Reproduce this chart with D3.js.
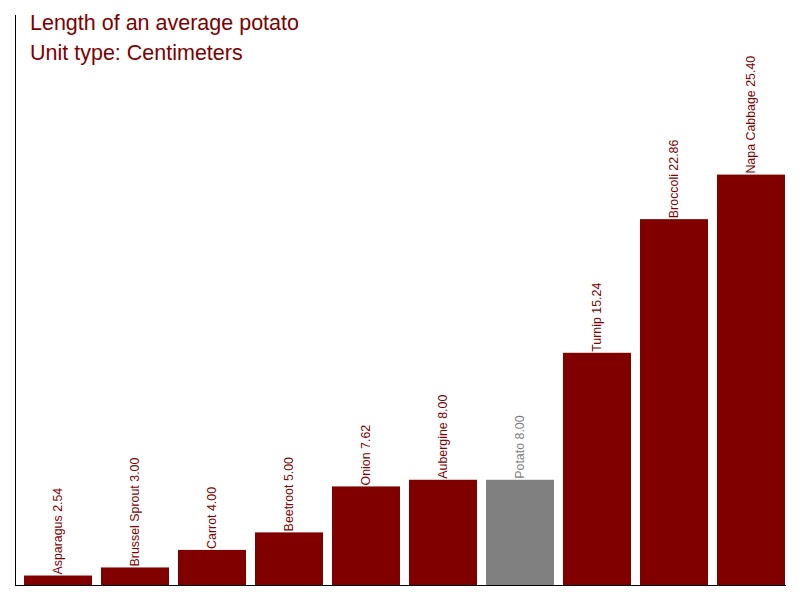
<!DOCTYPE html>
<html>
<head>
<meta charset="utf-8">
<script src="https://cdn.jsdelivr.net/npm/d3@7"></script>
<style>
  body { margin: 0; background: #fff; }
  svg { display: block; font-family: "Liberation Sans", Arial, sans-serif; }
</style>
</head>
<body>
<svg width="800" height="600"></svg>
<script>
const vegetables = ["Asparagus", "Brussel Sprout", "Carrot", "Beetroot", "Onion", "Aubergine", "Potato", "Turnip", "Broccoli", "Napa Cabbage"];
const lengths = [2.54, 3.00, 4.00, 5.00, 7.62, 8.00, 8.00, 15.24, 22.86, 25.40];
const highlight = "Potato";
const titleLines = ["Length of an average potato", "Unit type: Centimeters"];

const svg = d3.select("svg");
const data = vegetables.map((name, i) => ({ name, value: lengths[i] }));

const x = d3.scaleBand()
  .domain(vegetables)
  .range([19.5, 789.5])
  .paddingInner(9 / 77)
  .paddingOuter(4.5 / 77);

const y = d3.scaleLinear()
  .domain([2, 34.5])
  .range([585, 15]);

const red = "#800000", grey = "#808080";

// bars
svg.selectAll("rect")
  .data(data)
  .enter()
  .append("rect")
  .attr("x", d => x(d.name))
  .attr("y", d => y(d.value))
  .attr("width", x.bandwidth())
  .attr("height", d => y.range()[0] - y(d.value))
  .attr("fill", d => d.name === highlight ? grey : red);

// labels on top of bars
svg.selectAll("text.label")
  .data(data)
  .enter()
  .append("text")
  .attr("class", "label")
  .attr("transform", d => `translate(${x(d.name) + x.bandwidth() / 2},${y(d.value) - 1}) rotate(-90)`)
  .attr("dy", "0.35em")
  .style("font-size", "12.4px")
  .attr("fill", d => d.name === highlight ? grey : red)
  .text(d => `${d.name} ${d.value.toFixed(2)}`);

// axes lines
svg.append("line")
  .attr("x1", 15.5).attr("x2", 15.5)
  .attr("y1", 15).attr("y2", 585)
  .attr("stroke", "#000");

svg.append("line")
  .attr("x1", 15).attr("x2", 786)
  .attr("y1", 585.5).attr("y2", 585.5)
  .attr("stroke", "#000");

// title
svg.selectAll("text.title")
  .data(titleLines)
  .enter()
  .append("text")
  .attr("class", "title")
  .attr("x", 30)
  .attr("y", (d, i) => 30 + i * 30)
  .style("font-size", "21.5px")
  .attr("fill", red)
  .text(d => d);
</script>
</body>
</html>
